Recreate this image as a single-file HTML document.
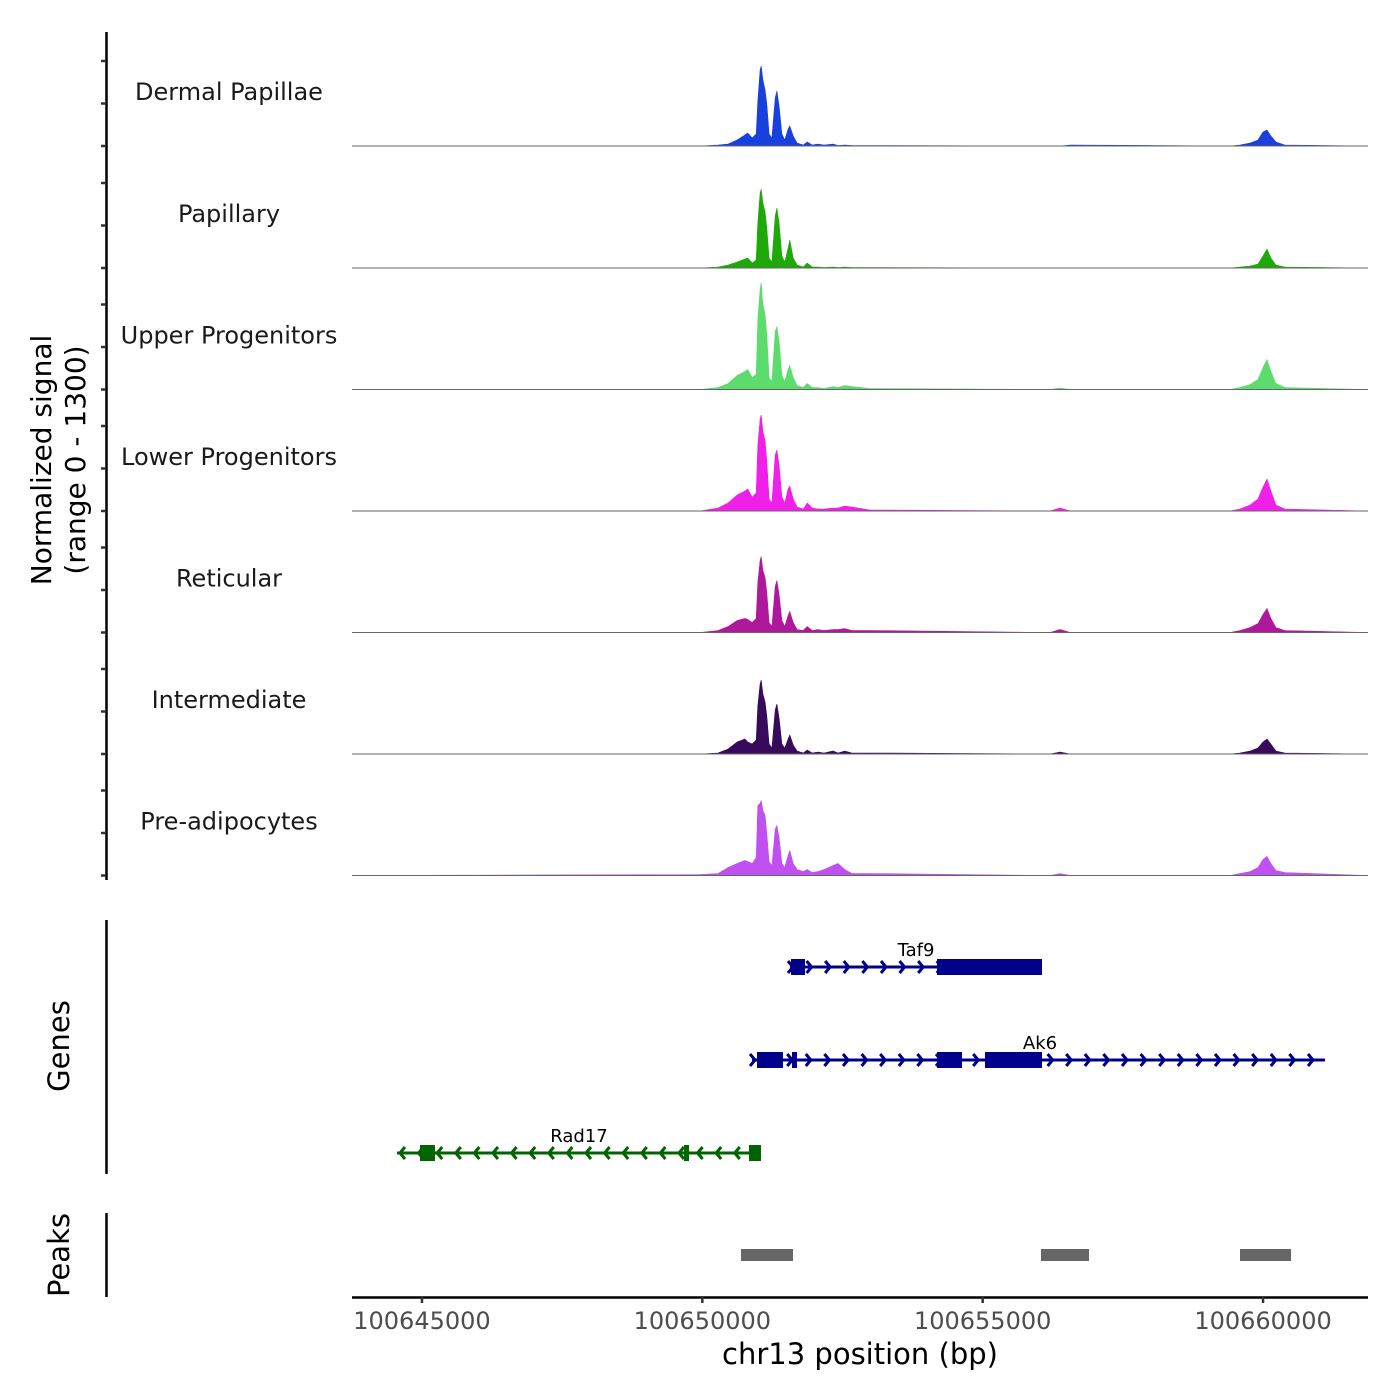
<!DOCTYPE html>
<html><head><meta charset="utf-8">
<style>
html,body{margin:0;padding:0;background:#fff;}
svg{display:block;font-family:"DejaVu Sans","Liberation Sans",sans-serif;}
</style></head>
<body>
<svg id="chart" width="1400" height="1400" viewBox="0 0 1400 1400" xmlns="http://www.w3.org/2000/svg">
<rect width="1400" height="1400" fill="#fff"/>
<g id="tracks"></g>
<g id="yaxis"></g>
<text transform="translate(51,460) rotate(-90)" text-anchor="middle" font-size="28" fill="#000">Normalized signal</text>
<text transform="translate(85,460) rotate(-90)" text-anchor="middle" font-size="28" fill="#000">(range 0 - 1300)</text>
<line x1="106.5" y1="920" x2="106.5" y2="1174" stroke="#000" stroke-width="2.5"/>
<text transform="translate(69,1046) rotate(-90)" text-anchor="middle" font-size="29">Genes</text>
<g id="genes"></g>
<line x1="106.5" y1="1213" x2="106.5" y2="1297" stroke="#000" stroke-width="2.5"/>
<text transform="translate(69,1255) rotate(-90)" text-anchor="middle" font-size="29">Peaks</text>
<g id="peaks"></g>
<g id="xaxis"></g>
<text x="860" y="1364" text-anchor="middle" font-size="29">chr13 position (bp)</text>
</svg>
<script>
const trackNames = ["Dermal Papillae","Papillary","Upper Progenitors","Lower Progenitors","Reticular","Intermediate","Pre-adipocytes"];
const trackColors = ["#1740dc","#1fa80a","#5cdc6c","#f020e8","#b0189c","#380a5c","#c050f0"];
const positions = [100643752,100649960,100650280,100650460,100650620,100650760,100650810,100650890,100650960,100650990,100651030,100651050,100651080,100651120,100651150,100651190,100651240,100651300,100651330,100651370,100651420,100651470,100651530,100651560,100651620,100651690,100651800,100651870,100651960,100652060,100652170,100652330,100652420,100652540,100652670,100652990,100656200,100656380,100656560,100659410,100659590,100659770,100659910,100660000,100660070,100660140,100660230,100660390,100661872];
// signal values (in units of 10)
const sigDermal = [0,0,1,2,6,11,13,8,12,45,76,80,66,56,42,12,8,48,55,40,12,6,17,20,10,3,1,4,1,2,1,2,0.5,1,0.5,0.5,0,0,1,0,1,3,6,14,16,10,4,1,0];
const sigPapillary = [0,0,1,3,6,9,10,5,8,45,75,79,65,56,40,10,6,52,60,45,12,6,20,28,10,3,1,5,1,1,0.5,1,0.5,1,0.5,0.5,0,0,0,0,1,2,4,12,19,10,3,1,0];
const sigUpper = [0,0,2,6,14,18,20,12,15,70,100,107,85,75,55,12,8,58,63,48,14,8,20,24,12,4,2,6,2,2,1,3,2,4,3,1,0,1.5,0,0,2,5,10,22,30,18,6,2,0];
const sigLower = [0,0,3,8,16,20,22,14,18,65,92,96,80,70,50,12,8,56,61,46,14,8,22,25,12,4,2,8,3,2,2,3,3,5,4,1,0,3,0,0,2,6,12,24,32,20,6,2,0];
const sigReticular = [0,0,2,6,12,14,13,10,14,50,72,76,62,55,40,10,6,46,52,38,12,6,17,21,10,3,2,6,2,3,2,3,3,4,2,2,0,3,0,0,2,5,9,18,24,14,5,2,0];
const sigIntermediate = [0,0,1,5,12,15,12,10,14,48,70,74,60,52,38,10,6,44,50,36,10,6,15,19,9,3,1,4,1,2,1,3,1,3,1,1,0,2,0,0,1,3,6,12,15,10,3,1,0];
const sigPreadipo = [0,1,2,8,12,15,14,12,18,70,72,75,65,60,42,14,10,46,50,38,12,8,20,25,12,6,4,6,3,4,6,10,12,6,2,2,0,2,0,0,2,4,8,16,19,12,5,3,0];
const allSignals = [sigDermal,sigPapillary,sigUpper,sigLower,sigReticular,sigIntermediate,sigPreadipo];
const yTicks = [0,42.5,85];
const xTicks = [100645000,100650000,100655000,100660000];
const genes = [
 {name:"Taf9",strand:1,start:100651563,end:100656058,row:0,exons:[[100651581,100651831],[100654185,100656058]],label:100653811},
 {name:"Ak6",strand:1,start:100650886,end:100661105,row:1,exons:[[100650975,100651438],[100651599,100651688],[100654185,100654631],[100655041,100656058]],label:100656022},
 {name:"Rad17",strand:-1,start:100644554,end:100651028,row:2,exons:[[100644964,100645232],[100649673,100649762],[100650832,100651046]],label:100647800}
];
const peakRegions = [[100650689,100651617],[100656040,100656896],[100659589,100660499]];

const NS="http://www.w3.org/2000/svg";
function el(tag,attrs,parent){const e=document.createElementNS(NS,tag);for(const k in attrs)e.setAttribute(k,attrs[k]);parent.appendChild(e);return e;}
const X0=352,X1=1368,BP0=100643752,BP1=100661872;
const xScale=bp=>X0+(bp-BP0)/(BP1-BP0)*(X1-X0);
const baselines=[146,268,389.5,511,632.5,754,875.5];
const yScale=(v,i)=>baselines[i]-v*1.0;

const tg=document.getElementById('tracks');
const ya=document.getElementById('yaxis');
const axl=el('line',{x1:106.5,y1:32,x2:106.5,y2:880,stroke:'#000','stroke-width':2.5},ya);


allSignals.forEach((sig,i)=>{
  let d=`M${xScale(positions[0])},${baselines[i]}`;
  sig.forEach((v,j)=>{d+=` L${xScale(positions[j]).toFixed(1)},${yScale(v,i).toFixed(1)}`;});
  d+=` L${xScale(positions[positions.length-1])},${baselines[i]} Z`;
  const p=el('path',{d:d,fill:trackColors[i],stroke:trackColors[i],'stroke-width':0.6},tg);
  
  
  const bl=el('line',{x1:X0,y1:baselines[i],x2:X1,y2:baselines[i],stroke:'#666','stroke-width':1},tg);
  
  
  const t=el('text',{x:229,y:baselines[i]-46,'text-anchor':'middle','font-size':24,fill:'#1a1a1a'},tg);
  t.textContent=trackNames[i];
  
  
  yTicks.forEach(tv=>{
    const y=yScale(tv,i);
    const tk=el('line',{x1:101,y1:y,x2:106,y2:y,stroke:'#333','stroke-width':2.5},ya);
    
    
  });
});

const gg=document.getElementById('genes');
const rowY=[967,1060,1153];
genes.forEach(g=>{
  const col=g.strand>0?'#00008b':'#006400';
  const y=rowY[g.row];
  const grp=el('g',{},gg);
  
  
  const x1=xScale(g.start),x2=xScale(g.end);
  el('line',{x1:x1,y1:y,x2:x2,y2:y,stroke:col,'stroke-width':3},grp);
  for(let x=x1+3;x<=x2-1;x+=18.6){
    const s=g.strand>0?-1:1;
    el('polyline',{points:`${x+s*5},${y-6} ${x},${y} ${x+s*5},${y+6}`,fill:'none',stroke:col,'stroke-width':3},grp);
  }
  g.exons.forEach(e=>{
    el('rect',{x:xScale(e[0]),y:y-8,width:Math.max(4,xScale(e[1])-xScale(e[0])),height:16,fill:col},grp);
  });
  const t=el('text',{x:xScale(g.label),y:y-11,'text-anchor':'middle','font-size':18,fill:'#000'},grp);
  t.textContent=g.name;
});

const pg=document.getElementById('peaks');
peakRegions.forEach(r=>{
  const rc=el('rect',{x:xScale(r[0]),y:1249,width:xScale(r[1])-xScale(r[0]),height:12,fill:'#666'},pg);
  
  
});

const xa=document.getElementById('xaxis');
el('line',{x1:X0,y1:1297.5,x2:X1,y2:1297.5,stroke:'#000','stroke-width':2.5},xa);
xTicks.forEach(v=>{
  const x=xScale(v);
  const tk=el('line',{x1:x,y1:1297,x2:x,y2:1303,stroke:'#333','stroke-width':2.5},xa);
  
  
  const t=el('text',{x:x,y:1329,'text-anchor':'middle','font-size':24,fill:'#4d4d4d'},xa);
  t.textContent=String(v);
  
  
});
</script>
</body></html>
